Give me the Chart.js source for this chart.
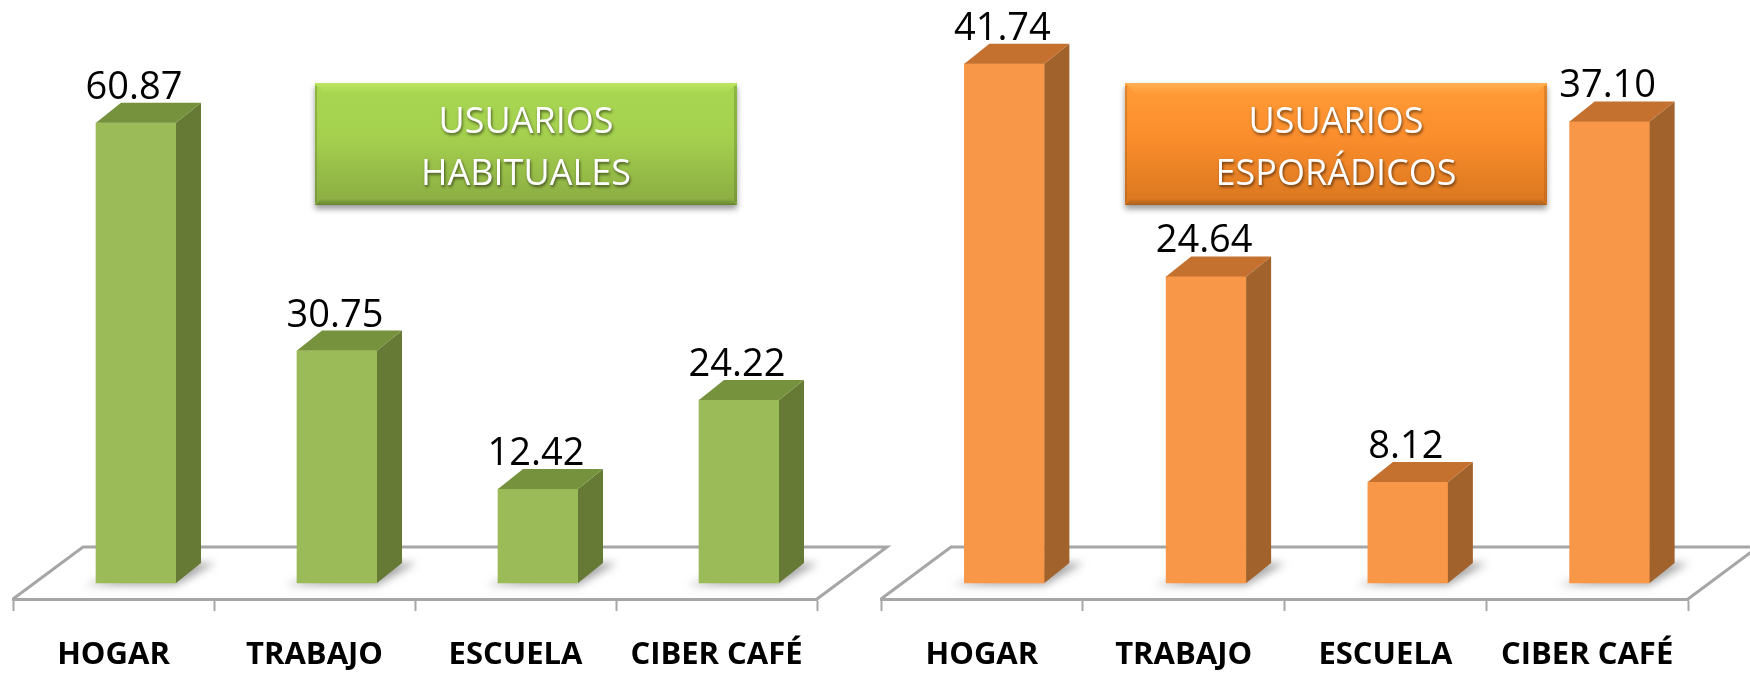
<!DOCTYPE html>
<html>
<head>
<meta charset="utf-8">
<title>Usuarios</title>
<script src="https://cdn.jsdelivr.net/npm/chart.js@4"></script>
<style>
    html, body { margin: 0; padding: 0; background: #fff; overflow: hidden; }
    canvas { position: absolute; top: 0; }
    #habituales { left: 0; }
    #esporadicos { left: 875px; }
</style>
</head>
<body>
<canvas id="habituales" width="900" height="673" style="width:900px;height:673px"></canvas>
<canvas id="esporadicos" width="875" height="673" style="width:875px;height:673px"></canvas>
<script>
const categories = ["HOGAR", "TRABAJO", "ESCUELA", "CIBER CAFÉ"];
const habitualesValues = [60.87, 30.75, 12.42, 24.22];
const esporadicosValues = [41.74, 24.64, 8.12, 37.10];

const GREY = "#a6a6a6";
const SHIFT = 22.5;   // bars stand further back than the axis
const DEPTH_X = 25;
const DEPTH_Y = 20;

const greenStyle = {
    front: "#9bbb59", side: "#667a36", top: "#76923c",
    box: ["#a9d752", "#a4d04e", "#8aab42"], boxTop: "#bfe660", boxBottom: "#67842f", boxSide: "rgba(90,120,40,0.35)"
};
const orangeStyle = {
    front: "#f99748", side: "#a2622c", top: "#c4702f",
    box: ["#ff9c38", "#fb8d2c", "#d9771f"], boxTop: "#ffb052", boxBottom: "#a85f20", boxSide: "rgba(170,90,20,0.35)"
};

const floorPlugin = {
    id: "floor",
    beforeDatasetsDraw(chart) {
        const ctx = chart.ctx;
        const { left, right, bottom } = chart.chartArea;
        const backY = bottom - 52;
        ctx.save();
        ctx.strokeStyle = GREY;
        ctx.lineWidth = 3;
        ctx.beginPath();
        ctx.moveTo(left, bottom);
        ctx.lineTo(left + 70, backY);
        ctx.lineTo(right + 70, backY);
        ctx.lineTo(right, bottom);
        ctx.stroke();

        // soft shadow of each bar on the floor
        const base = chart.scales.y.getPixelForValue(0);
        ctx.filter = "blur(4px)";
        ctx.fillStyle = "rgba(90,90,90,0.55)";
        chart.getDatasetMeta(0).data.forEach((bar) => {
            const x0 = bar.x - bar.width / 2 + SHIFT;
            const x1 = bar.x + bar.width / 2 + SHIFT;
            ctx.beginPath();
            ctx.moveTo(x0 - 12, base + 2);
            ctx.lineTo(x1, base + 2);
            ctx.lineTo(x1 + DEPTH_X + 14, base - DEPTH_Y);
            ctx.lineTo(x1, base - DEPTH_Y);
            ctx.closePath();
            ctx.fill();
        });
        ctx.restore();

        ctx.save();
        ctx.translate(SHIFT, 0);
    },
    afterDatasetsDraw(chart, args, opts) {
        const ctx = chart.ctx;
        const base = chart.scales.y.getPixelForValue(0);
        chart.getDatasetMeta(0).data.forEach((bar, i) => {
            const x0 = bar.x - bar.width / 2;
            const x1 = bar.x + bar.width / 2;
            ctx.fillStyle = opts.style.side;
            ctx.beginPath();
            ctx.moveTo(x1, bar.y);
            ctx.lineTo(x1 + DEPTH_X, bar.y - DEPTH_Y);
            ctx.lineTo(x1 + DEPTH_X, base - DEPTH_Y);
            ctx.lineTo(x1, base);
            ctx.closePath();
            ctx.fill();
            ctx.fillStyle = opts.style.top;
            ctx.beginPath();
            ctx.moveTo(x0, bar.y);
            ctx.lineTo(x0 + DEPTH_X, bar.y - DEPTH_Y);
            ctx.lineTo(x1 + DEPTH_X, bar.y - DEPTH_Y);
            ctx.lineTo(x1, bar.y);
            ctx.closePath();
            ctx.fill();
            ctx.fillStyle = "#000";
            ctx.font = '38px "Open Sans"';
            ctx.textAlign = "center";
            ctx.textBaseline = "alphabetic";
            ctx.fillText(chart.data.datasets[0].data[i].toFixed(2), bar.x - 2, bar.y - 24);
        });
        ctx.restore();
    }
};

const boxPlugin = {
    id: "box",
    afterDraw(chart, args, opts) {
        const ctx = chart.ctx;
        const { x, y, w, h, lines, style } = opts;
        const b = 10;
        ctx.save();
        ctx.shadowColor = "rgba(0,0,0,0.4)";
        ctx.shadowBlur = 6;
        ctx.shadowOffsetY = 4;
        ctx.fillStyle = style.box[1];
        ctx.fillRect(x, y, w, h);
        ctx.restore();

        ctx.save();
        const grad = ctx.createLinearGradient(0, y, 0, y + h);
        grad.addColorStop(0, style.box[0]);
        grad.addColorStop(0.45, style.box[1]);
        grad.addColorStop(1, style.box[2]);
        ctx.fillStyle = grad;
        ctx.fillRect(x, y, w, h);

        const topGrad = ctx.createLinearGradient(0, y, 0, y + b);
        topGrad.addColorStop(0, style.boxTop);
        topGrad.addColorStop(1, style.box[0]);
        ctx.fillStyle = topGrad;
        ctx.beginPath();
        ctx.moveTo(x, y);
        ctx.lineTo(x + w, y);
        ctx.lineTo(x + w - b, y + b);
        ctx.lineTo(x + b, y + b);
        ctx.closePath();
        ctx.fill();

        const bottomGrad = ctx.createLinearGradient(0, y + h - 6, 0, y + h);
        bottomGrad.addColorStop(0, style.box[2]);
        bottomGrad.addColorStop(1, style.boxBottom);
        ctx.fillStyle = bottomGrad;
        ctx.beginPath();
        ctx.moveTo(x, y + h);
        ctx.lineTo(x + w, y + h);
        ctx.lineTo(x + w - 6, y + h - 6);
        ctx.lineTo(x + 6, y + h - 6);
        ctx.closePath();
        ctx.fill();

        ctx.fillStyle = style.boxSide;
        ctx.fillRect(x, y + 3, 2, h - 6);
        ctx.fillRect(x + w - 3, y + 3, 3, h - 6);

        ctx.fillStyle = "#fff";
        ctx.font = '36px "Open Sans"';
        ctx.textAlign = "center";
        ctx.shadowColor = "rgba(0,0,0,0.55)";
        ctx.shadowBlur = 3;
        ctx.shadowOffsetX = 1;
        ctx.shadowOffsetY = 2;
        ctx.fillText(lines[0], x + w / 2, y + 50);
        ctx.fillText(lines[1], x + w / 2, y + 102);
        ctx.restore();
    }
};

const makeChart = (canvas, values, style, yRange, padLeft, padRight, box) => {
    return new Chart(canvas, {
        type: "bar",
        data: {
            labels: categories,
            datasets: [
                {
                    data: values,
                    backgroundColor: style.front,
                    barThickness: 80
                },
            ],
        },
        plugins: [floorPlugin, boxPlugin],
        options: {
            responsive: false,
            animation: false,
            layout: {
                padding: { left: padLeft, right: padRight, top: 0, bottom: 0 }
            },
            scales: {
                x: {
                    afterFit: (scale) => { scale.height = 74; },
                    border: { color: GREY, width: 3 },
                    grid: { drawOnChartArea: false, color: GREY, tickColor: GREY, tickLength: 12, tickWidth: 2 },
                    ticks: {
                        color: "#000",
                        padding: 26,
                        maxRotation: 0,
                        autoSkip: false,
                        font: { family: "Open Sans", weight: "bold", size: 31 }
                    }
                },
                y: {
                    display: false,
                    min: yRange[0],
                    max: yRange[1]
                }
            },
            plugins: {
                legend: { display: false },
                tooltip: { enabled: false },
                floor: { style: style },
                box: Object.assign({ style: style }, box)
            }
        }
    });
};

makeChart(document.querySelector("#habituales"), habitualesValues, greenStyle, [-2.116, 77.12], 13, 83,
    { x: 315, y: 83, w: 422, h: 122, lines: ["USUARIOS", "HABITUALES"] });
makeChart(document.querySelector("#esporadicos"), esporadicosValues, orangeStyle, [-1.286, 46.86], 6, 62,
    { x: 250, y: 83, w: 422, h: 122, lines: ["USUARIOS", "ESPORÁDICOS"] });
</script>
</body>
</html>
